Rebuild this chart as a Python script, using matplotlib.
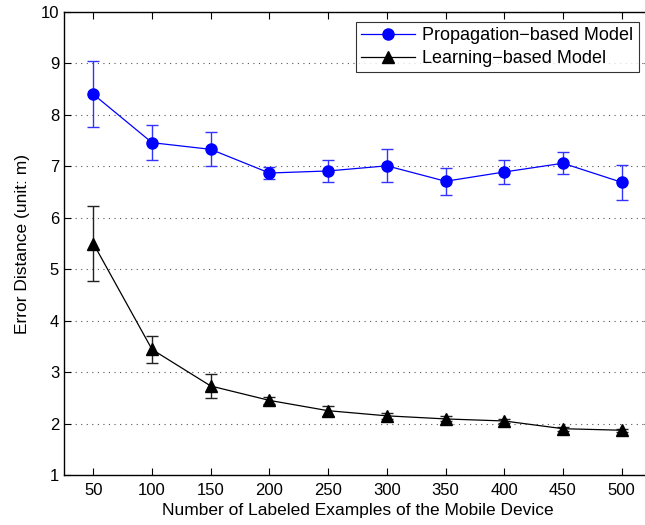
import matplotlib
matplotlib.use('Agg')
import matplotlib.pyplot as plt

plt.rcParams['font.family'] = ['Liberation Sans', 'DejaVu Sans']

samples = [50, 100, 150, 200, 250, 300, 350, 400, 450, 500]

prop_mean = [8.40, 7.46, 7.33, 6.87, 6.91, 7.01, 6.71, 6.89, 7.06, 6.69]
prop_err = [0.64, 0.34, 0.33, 0.12, 0.21, 0.32, 0.26, 0.23, 0.21, 0.34]

learn_mean = [5.50, 3.44, 2.73, 2.45, 2.25, 2.15, 2.09, 2.05, 1.90, 1.87]
learn_err = [0.73, 0.27, 0.23, 0.07, 0.10, 0.06, 0.05, 0.04, 0.04, 0.03]

fig = plt.figure(figsize=(6.45, 5.25), dpi=100)
ax = fig.add_axes([64 / 645, 50 / 525, 587 / 645, 463 / 525])

e1 = ax.errorbar(samples, prop_mean, yerr=prop_err, fmt='-o', color='#0000ff',
                 ecolor='#3333ff', elinewidth=1.0, capsize=4, capthick=1.0,
                 lw=0.9, markersize=8, zorder=3)
e2 = ax.errorbar(samples, learn_mean, yerr=learn_err, fmt='-^', color='black',
                 ecolor='#222222', elinewidth=1.0, capsize=4, capthick=1.0,
                 lw=0.9, markersize=8, zorder=3)

ax.set_xlim(25, 525)
ax.set_ylim(1, 10)
ax.set_xticks(samples)
ax.set_yticks(range(1, 11))
ax.tick_params(direction='in', top=True, right=True, length=5, labelsize=12)
ax.tick_params(axis='x', pad=6)
ax.tick_params(axis='y', pad=3.5)
ax.yaxis.grid(True, linestyle=(0, (1, 4)), color='#555555', lw=0.8)
for s in ax.spines.values():
    s.set_linewidth(1.0)

ax.set_xlabel('Number of Labeled Examples of the Mobile Device', fontsize=12.5, labelpad=3)
ax.set_ylabel('Error Distance (unit: m)', fontsize=12.5, labelpad=8)

leg = ax.legend([e1[0], e2[0]], ['Propagation\u2212based Model', 'Learning\u2212based Model'],
                loc='upper right', bbox_to_anchor=(639 / 645, 1 - 22 / 525),
                bbox_transform=fig.transFigure, fontsize=13, frameon=True,
                fancybox=False, edgecolor='black', borderaxespad=0,
                handlelength=3.0, handletextpad=0.4, labelspacing=0.3, borderpad=0.3)
leg.get_frame().set_linewidth(0.8)

plt.savefig('out.png', dpi=100)
